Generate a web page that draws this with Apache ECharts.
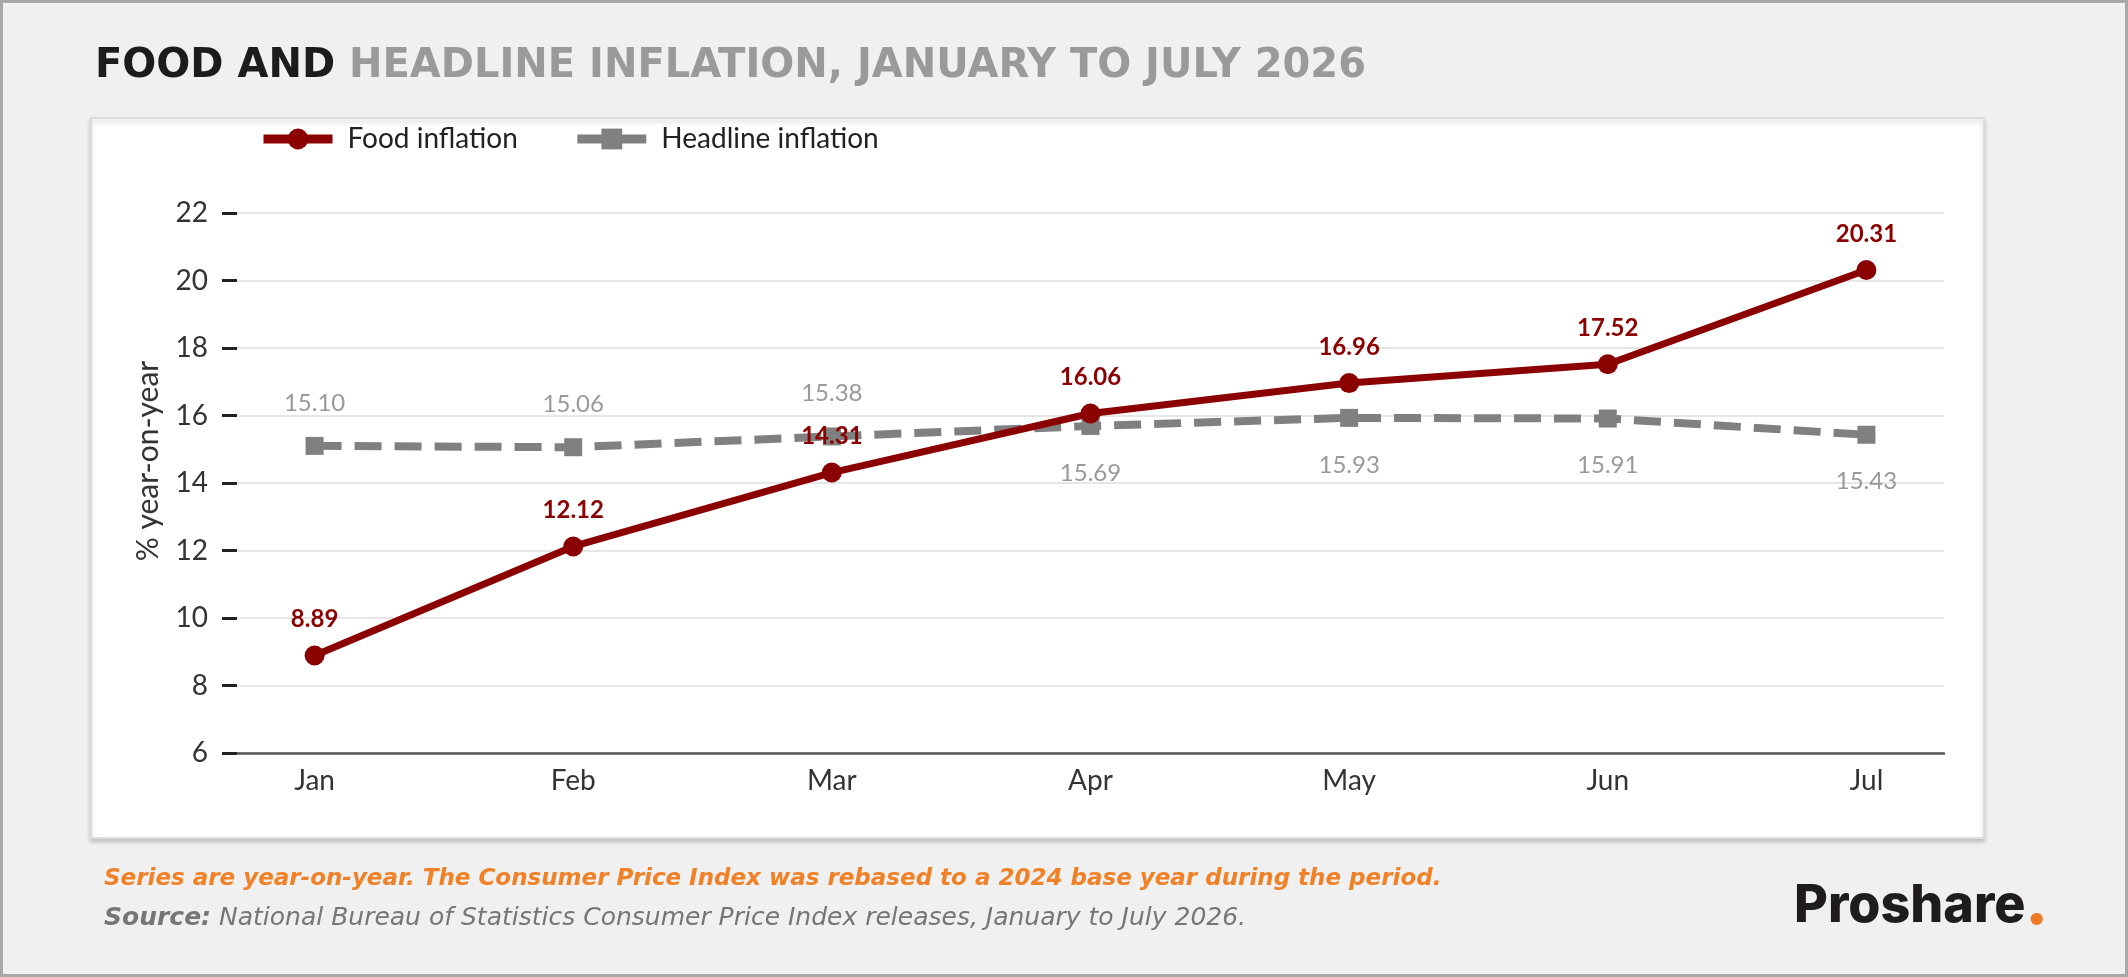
<!DOCTYPE html>
<html>
<head>
  <meta charset="utf-8">
  <title>Food and headline inflation</title>
  <script src="https://cdn.jsdelivr.net/npm/echarts@6/dist/echarts.min.js"></script>
  <style>
    html, body { margin: 0; padding: 0; background: #f0f0f0; }
  </style>
</head>
<body>
<div id="main" style="width: 2128px;height:977px;"></div>

<script type="text/javascript">
  // months on the x axis
  var categories = ['Jan', 'Feb', 'Mar', 'Apr', 'May', 'Jun', 'Jul'];
  // % year-on-year
  var foodInflation = [8.89, 12.12, 14.31, 16.06, 16.96, 17.52, 20.31];
  var headlineInflation = [15.10, 15.06, 15.38, 15.69, 15.93, 15.91, 15.43];
  var yTicks = [6, 8, 10, 12, 14, 16, 18, 20, 22];

  var titleDark = 'FOOD AND ';
  var titleGrey = 'HEADLINE INFLATION, JANUARY TO JULY 2026';
  var noteText = 'Series are year-on-year. The Consumer Price Index was rebased to a 2024 base year during the period.';
  var sourceText = 'National Bureau of Statistics Consumer Price Index releases, January to July 2026.';

  var red = '#8b0000';
  var grey = '#808080';

  function fmt(p) {
    return p.value[1].toFixed(2);
  }

  let myChart = echarts.init(document.getElementById('main'));

  let option = {
    backgroundColor: '#f0f0f0',
    animation: false,
    title: {
      text: '{a|' + titleDark + '}{b|' + titleGrey + '}',
      left: 95,
      top: 47,
      padding: 0,
      textStyle: {
        rich: {
          a: { fontFamily: 'DejaVu Sans', fontWeight: 'bold', fontSize: 40, color: '#1c1c1c' },
          b: { fontFamily: 'DejaVu Sans', fontWeight: 'bold', fontSize: 40, color: '#9a9a9a' }
        }
      }
    },
    graphic: [
      {
        type: 'rect', z: -100, silent: true,
        shape: { x: 1.5, y: 1.5, width: 2125, height: 974 },
        style: { fill: 'none', stroke: '#a8a8a8', lineWidth: 3 }
      },
      {
        type: 'rect', z: -90, silent: true,
        shape: { x: 91, y: 118, width: 1893, height: 720 },
        style: {
          fill: '#ffffff', stroke: '#dcdcdc', lineWidth: 2,
          shadowColor: 'rgba(0,0,0,0.18)', shadowBlur: 4, shadowOffsetY: 3
        }
      },
      {
        type: 'text', left: 104, top: 868,
        style: {
          text: noteText,
          font: 'italic bold 23px "DejaVu Sans"',
          fill: '#f08126'
        }
      },
      {
        type: 'text', left: 104, top: 906,
        style: {
          text: '{b|Source:} ' + sourceText,
          font: 'italic 25px "DejaVu Sans"',
          fill: '#767676',
          rich: {
            b: { fontFamily: 'DejaVu Sans', fontStyle: 'italic', fontWeight: 'bold', fontSize: 25, fill: '#767676' }
          }
        }
      },
      {
        type: 'text', left: 1794, top: 876,
        style: {
          text: 'Proshare{d|.}',
          font: '800 52px Inter',
          fill: '#1e1c1d',
          rich: {
            d: { fontFamily: 'Inter', fontWeight: 900, fontSize: 60, fill: '#ee7b22' }
          }
        }
      }
    ],
    legend: {
      data: ['Food inflation', 'Headline inflation'],
      left: 259,
      top: 125,
      padding: 0,
      itemWidth: 69,
      itemHeight: 26,
      itemGap: 55,
      lineStyle: { width: 9, type: 'solid' },
      textStyle: {
        fontFamily: 'Lato',
        fontSize: 28,
        color: '#222',
        padding: [0, 0, 0, 10]
      }
    },
    grid: {
      left: 237,
      right: 184,
      top: 213,
      bottom: 224,
      containLabel: false
    },
    xAxis: {
      type: 'value',
      min: -0.3,
      max: 6.3,
      splitLine: { show: false },
      axisTick: { show: false },
      axisLine: { show: true, onZero: false, lineStyle: { color: '#555', width: 2.5 } },
      axisLabel: {
        fontFamily: 'Lato',
        fontSize: 28,
        color: '#333',
        margin: 14,
        showMinLabel: false,
        showMaxLabel: false,
        formatter: function (v) {
          var i = Math.round(v);
          if (Math.abs(v - i) > 1e-6) return '';
          return categories[i] || '';
        }
      }
    },
    yAxis: {
      type: 'value',
      min: yTicks[0],
      max: yTicks[yTicks.length - 1],
      interval: 2,
      name: '% year-on-year',
      nameLocation: 'middle',
      nameGap: 74,
      nameMoveOverlap: false,
      nameTextStyle: {
        fontFamily: 'Lato',
        fontSize: 30,
        color: '#333',
        padding: [0, 0, 0, 44]
      },
      axisLine: { show: false, onZero: false },
      axisTick: { show: true, length: 15, lineStyle: { color: '#222', width: 3 } },
      splitLine: { lineStyle: { color: '#e6e6e6', width: 2 } },
      axisLabel: {
        fontFamily: 'Lato',
        fontSize: 28,
        color: '#333',
        margin: 29
      }
    },
    series: [
      {
        name: 'Headline inflation',
        type: 'line',
        z: 2,
        symbol: 'rect',
        symbolSize: 18,
        itemStyle: { color: grey },
        lineStyle: { color: grey, width: 8, type: [27, 13] },
        data: headlineInflation.map(function (v, i) {
          var above = i < 3;
          return {
            value: [i, v],
            label: { position: above ? 'top' : 'bottom', distance: above ? 22 : 26 }
          };
        }),
        label: {
          show: true,
          formatter: fmt,
          fontFamily: 'Lato',
          fontSize: 24,
          color: '#999'
        }
      },
      {
        name: 'Food inflation',
        type: 'line',
        z: 3,
        symbol: 'circle',
        symbolSize: 20,
        itemStyle: { color: red },
        lineStyle: { color: red, width: 7 },
        data: foodInflation.map(function (v, i) {
          return [i, v];
        }),
        label: {
          show: true,
          position: 'top',
          distance: 14,
          formatter: fmt,
          fontFamily: 'Lato',
          fontWeight: 'bold',
          fontSize: 24,
          color: red
        }
      }
    ]
  };

  myChart.setOption(option);
</script>
</body>
</html>
